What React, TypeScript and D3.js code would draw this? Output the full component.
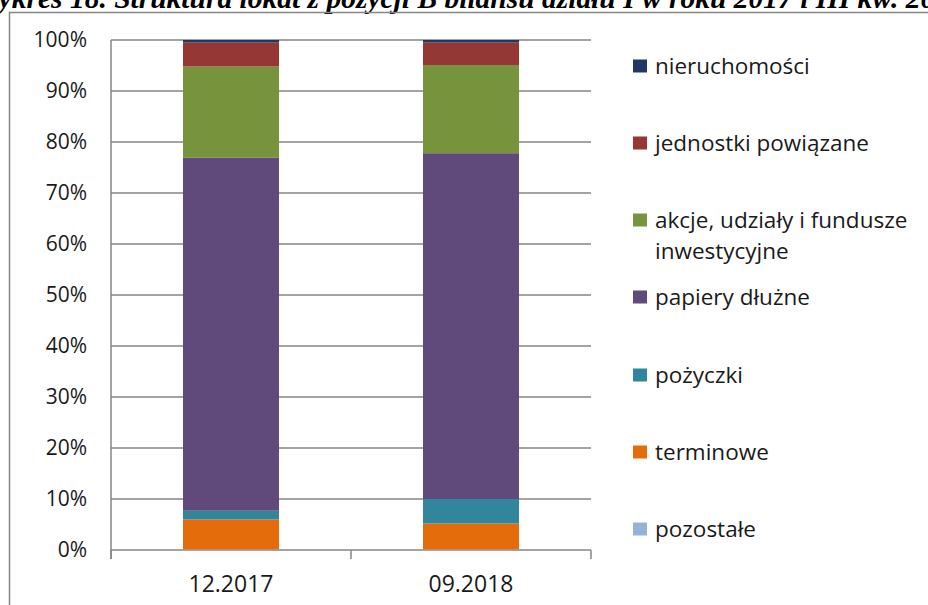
import React, { useRef, useEffect } from 'react';
import * as d3 from 'd3';

const categories = ['12.2017', '09.2018'];

// stack order from bottom to top
const seriesNames = [
  'pozostałe',
  'terminowe',
  'pożyczki',
  'papiery dłużne',
  'akcje, udziały i fundusze inwestycyjne',
  'jednostki powiązane',
  'nieruchomości',
];
const pozostale = [0.1, 0.1];
const terminowe = [5.9, 5.1];
const pozyczki = [1.7, 4.8];
const papieryDluzne = [69.2, 67.8];
const akcje = [17.9, 17.3];
const jednostki = [4.7, 4.4];
const nieruchomosci = [0.5, 0.5];

const seriesColors = ['#95B3D7', '#E46C0A', '#31859C', '#604A7B', '#77933C', '#953735', '#1F3864'];

const yTicks = [0, 10, 20, 30, 40, 50, 60, 70, 80, 90, 100];

// legend lines, top to bottom
const legendItems = [
  { name: 'nieruchomości', lines: ['nieruchomości'] },
  { name: 'jednostki powiązane', lines: ['jednostki powiązane'] },
  { name: 'akcje, udziały i fundusze inwestycyjne', lines: ['akcje, udziały i fundusze', 'inwestycyjne'] },
  { name: 'papiery dłużne', lines: ['papiery dłużne'] },
  { name: 'pożyczki', lines: ['pożyczki'] },
  { name: 'terminowe', lines: ['terminowe'] },
  { name: 'pozostałe', lines: ['pozostałe'] },
];

const title = 'Wykres 18. Struktura lokat z pozycji B bilansu działu I w roku 2017 i III kw. 2018';

const App: React.FC = () => {
  const ref = useRef<SVGSVGElement>(null);

  useEffect(() => {
    const svg = d3.select(ref.current);
    svg.selectAll('*').remove();

    const values = [pozostale, terminowe, pozyczki, papieryDluzne, akcje, jednostki, nieruchomosci];
    const rows = categories.map((c, i) => {
      const r: any = { category: c };
      seriesNames.forEach((s, j) => (r[s] = values[j][i]));
      return r;
    });
    const stacked = d3.stack().keys(seriesNames)(rows);

    const x = d3.scaleBand().domain(categories).range([111, 591]).paddingInner(0.6).paddingOuter(0.3);
    const y = d3.scaleLinear().domain([0, 100]).range([550, 40]);
    const color = d3.scaleOrdinal<string>().domain(seriesNames).range(seriesColors);

    const font = '"Open Sans", sans-serif';

    // title (the page crops it at the top)
    svg
      .append('text')
      .attr('x', -26)
      .attr('y', 8)
      .style('font-family', '"Liberation Serif", serif')
      .style('font-weight', 'bold')
      .style('font-style', 'italic')
      .style('font-size', '29.5px')
      .text(title);

    // frame
    svg
      .append('path')
      .attr('d', 'M9.5,610 V12.5 H940')
      .attr('fill', 'none')
      .attr('stroke', '#868686')
      .attr('stroke-width', 1.5);

    // gridlines
    svg
      .append('g')
      .selectAll('line')
      .data(yTicks)
      .enter()
      .append('line')
      .attr('x1', 111)
      .attr('x2', 591)
      .attr('y1', (d) => y(d))
      .attr('y2', (d) => y(d))
      .attr('stroke', '#868686')
      .attr('stroke-width', 1.5);

    // bars
    svg
      .append('g')
      .selectAll('g')
      .data(stacked)
      .enter()
      .append('g')
      .attr('fill', (d) => color(d.key))
      .selectAll('rect')
      .data((d) => d)
      .enter()
      .append('rect')
      .attr('x', (d: any) => x(d.data.category)!)
      .attr('width', x.bandwidth())
      .attr('y', (d) => y(d[1]))
      .attr('height', (d) => y(d[0]) - y(d[1]));

    // axis lines
    svg
      .append('line')
      .attr('x1', 111)
      .attr('x2', 111)
      .attr('y1', 40)
      .attr('y2', 559)
      .attr('stroke', '#868686')
      .attr('stroke-width', 1.5);
    svg
      .append('g')
      .selectAll('line')
      .data([111, 351, 591])
      .enter()
      .append('line')
      .attr('x1', (d) => d)
      .attr('x2', (d) => d)
      .attr('y1', 550)
      .attr('y2', 559)
      .attr('stroke', '#868686')
      .attr('stroke-width', 1.5);

    // y tick labels
    svg
      .append('g')
      .selectAll('text')
      .data(yTicks)
      .enter()
      .append('text')
      .attr('x', 87)
      .attr('y', (d) => y(d))
      .attr('dy', '0.35em')
      .attr('text-anchor', 'end')
      .style('font-family', font)
      .style('font-size', '21px')
      .style('fill', '#1a1a1a')
      .text((d) => `${d}%`);

    // x labels
    svg
      .append('g')
      .selectAll('text')
      .data(categories)
      .enter()
      .append('text')
      .attr('x', (d) => x(d)! + x.bandwidth() / 2)
      .attr('y', 592)
      .attr('text-anchor', 'middle')
      .style('font-family', font)
      .style('font-size', '23px')
      .style('fill', '#1a1a1a')
      .text((d) => d);

    // legend
    const legendY = [66, 143, 220, 297, 375, 452, 529];
    const lg = svg
      .append('g')
      .selectAll('g')
      .data(legendItems)
      .enter()
      .append('g')
      .attr('transform', (_d, i) => `translate(633,${legendY[i]})`);
    lg.append('rect')
      .attr('x', 0)
      .attr('y', -6.5)
      .attr('width', 14)
      .attr('height', 13)
      .attr('fill', (d) => color(d.name));
    lg.each(function (d) {
      const t = d3
        .select(this)
        .append('text')
        .style('font-family', font)
        .style('font-size', '22.5px')
        .style('fill', '#1a1a1a');
      d.lines.forEach((line, k) =>
        t
          .append('tspan')
          .attr('x', 22)
          .attr('y', k * 31)
          .attr('dy', '0.35em')
          .text(line)
      );
    });
  }, []);

  return (
    <svg
      ref={ref}
      width={928}
      height={605}
      style={{ position: 'absolute', left: 0, top: 0, background: '#fff' }}
    />
  );
};

export default App;
